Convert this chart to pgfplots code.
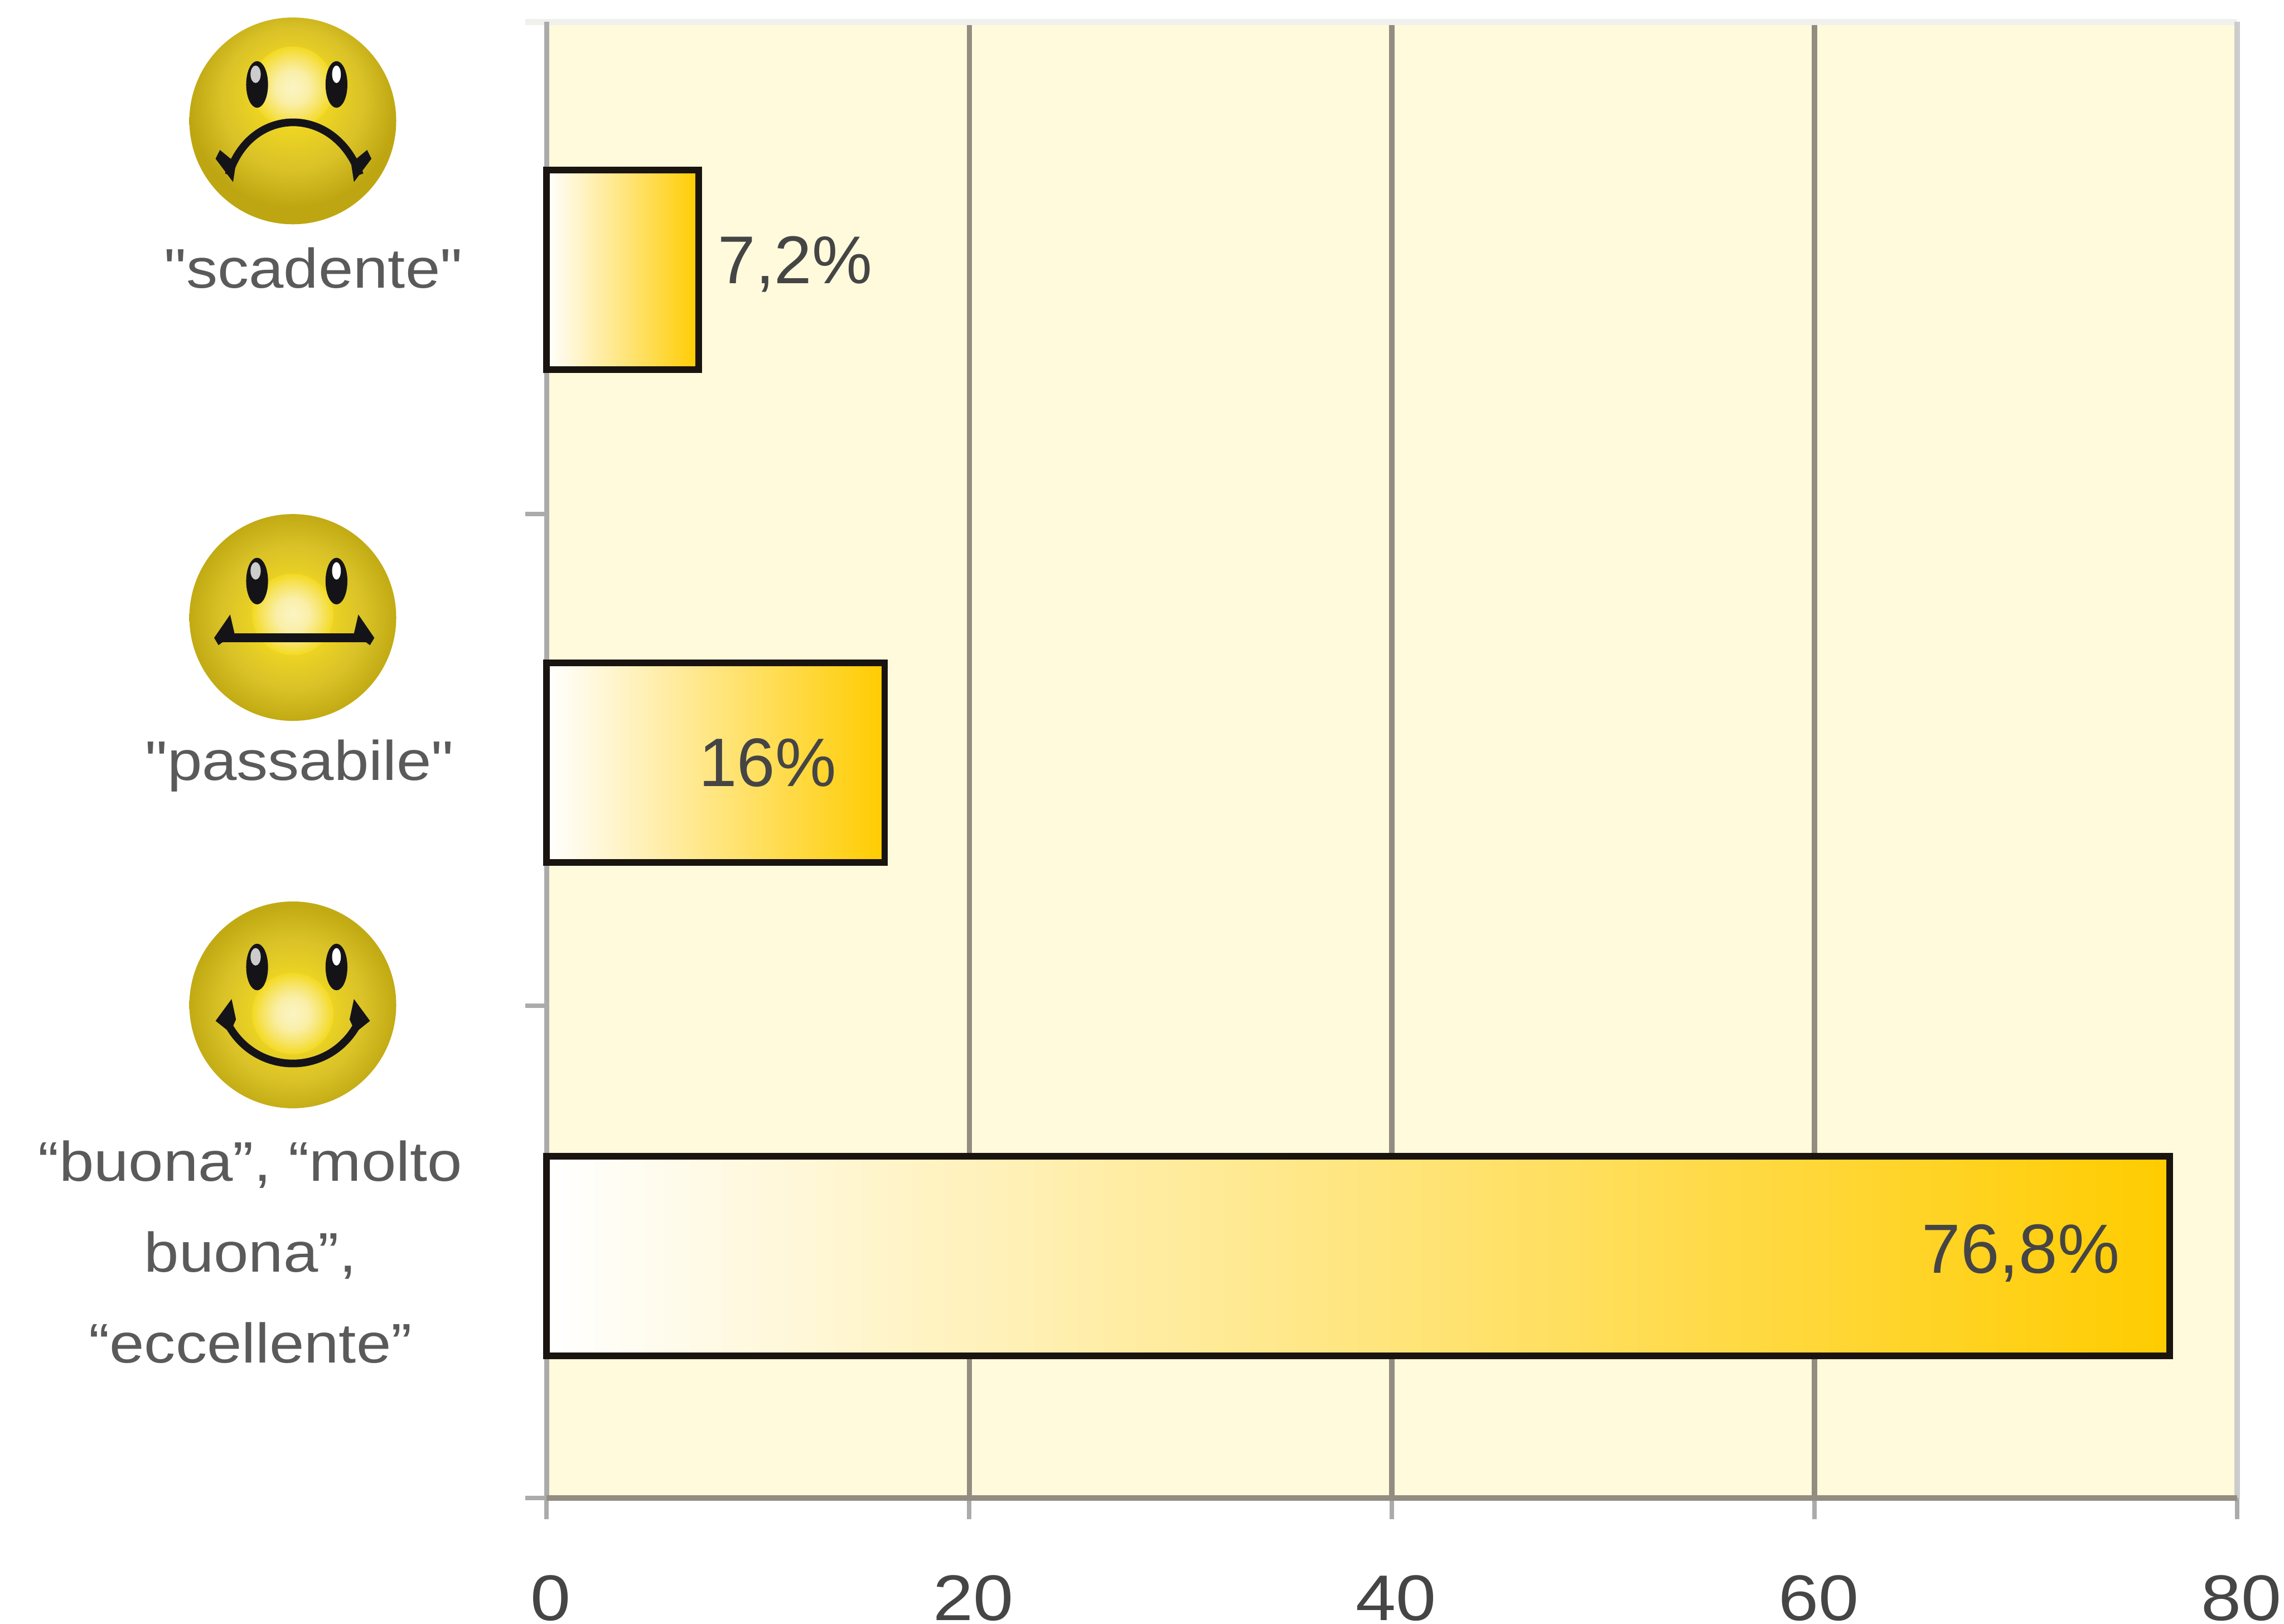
\documentclass[border=0pt]{standalone}
\usepackage{fontspec}
\setmainfont[FakeStretch=1.12,Ligatures=TeXOff]{Liberation Sans}
\newfontfamily\valuefont{Liberation Sans}
\usepackage{pgfplots}
\pgfplotsset{compat=1.18}

\definecolor{panel}{HTML}{FFFADC}
\definecolor{gridc}{HTML}{928D80}
\definecolor{spinel}{HTML}{ABABAB}
\definecolor{spiner}{HTML}{CCCCCC}
\definecolor{spinet}{HTML}{F0F0EC}
\definecolor{barline}{HTML}{1A1410}
\definecolor{barmid}{HTML}{FDE396}
\definecolor{barend}{HTML}{FFCC00}
\definecolor{labelc}{HTML}{5A5A5A}
\definecolor{valuec}{HTML}{454545}
\definecolor{eye}{HTML}{141418}
\definecolor{ballA}{HTML}{F4DC20}
\definecolor{ballB}{HTML}{EFD622}
\definecolor{ballC}{HTML}{DAC228}
\definecolor{ballD}{HTML}{BEA612}
\definecolor{ballE}{HTML}{C2AA14}
\definecolor{glowA}{HTML}{FBF4C4}
\definecolor{glowB}{HTML}{FAEFA8}
\definecolor{glowC}{HTML}{F7E466}
\definecolor{glowD}{HTML}{F3DA22}

% Face shading: the bright zone sits at a different height on each face.
% TikZ fits a path's bounding box to the inner 50bp square, so stops end at 25bp.
\pgfdeclareradialshading{ballup}{\pgfpoint{0bp}{8bp}}{color(0bp)=(ballA);color(8bp)=(ballB);color(17bp)=(ballC);color(25bp)=(ballD);color(50bp)=(ballD)}
\pgfdeclareradialshading{ballmid}{\pgfpoint{0bp}{0bp}}{color(0bp)=(ballA);color(8bp)=(ballB);color(17bp)=(ballC);color(25bp)=(ballE);color(50bp)=(ballE)}
\pgfdeclareradialshading{balllow}{\pgfpoint{0bp}{-2bp}}{color(0bp)=(ballA);color(8bp)=(ballB);color(17bp)=(ballC);color(25bp)=(ballE);color(50bp)=(ballE)}
\pgfdeclareradialshading{glow}{\pgfpointorigin}{color(0bp)=(glowA);color(10bp)=(glowB);color(18bp)=(glowC);color(25bp)=(glowD);color(50bp)=(glowD)}

\newcommand{\face}[4]{% centre y, shading, glow y, eye y
  \shade[shading=#2] (201,#1) circle (71);
  \shade[shading=glow] (201,#3) circle (28);
  \fill[eye] (176.5,#4) ellipse (7.5 and 16);
  \fill[eye] (231,#4) ellipse (7.5 and 16);
  \fill[gray!40] (175.5,#4-7) ellipse (3.5 and 6);
  \fill[white] (231,#4-7) ellipse (3 and 6);
}

\begin{document}
\begin{tikzpicture}[x=0.01cm,y=-0.01cm]
\path[use as bounding box] (0,0) rectangle (1568,1115);

\begin{axis}[
  at={(3.75cm,-10.28cm)}, anchor=south west,
  scale only axis, width=11.60cm, height=10.13cm,
  xmin=0, xmax=80, ymin=0, ymax=3,
  clip=false,
  axis line style={draw=none},
  axis background/.style={fill=panel},
  xtick pos=bottom, ytick pos=left,
  tick align=outside,
  major tick length=0.145cm,
  tick style={spinel, line width=0.9pt},
  xtick={0,20,40,60,80},
  xmajorgrids,
  grid style={gridc, line width=1pt},
  xticklabel style={font=\fontsize{12.6}{15}\selectfont, text=valuec, inner sep=0pt, anchor=north, yshift=-0.38cm, xshift=0.03cm},
  ytick={0,1,2,3},
  yticklabels={},
  extra y ticks={0.5,1.5,2.5},
  extra y tick labels={{“buona”, “molto\\buona”,\\“eccellente”},{\raisebox{-0.04cm}[\height][\depth]{"passabile"}\hspace{0.06cm}},{"scadente"}},
  extra y tick style={major tick length=0pt, tick style={draw=none},
    yticklabel style={font=\fontsize{10.9}{17.7}\selectfont, text=labelc, align=center, anchor=east, inner sep=0pt, xshift=-0.57cm}},
  /pgf/number format/assume math mode=true,
]
  % Frame: each side of the panel has its own weight
  \draw[spinet, line width=1.2pt] (axis cs:-1,3) -- (axis cs:80,3);
  \draw[spiner, line width=1pt] (axis cs:80,0) -- (axis cs:80,3);
  \draw[spinel, line width=1pt] (axis cs:0,0) -- (axis cs:0,3);
  \draw[gridc, line width=1pt] (axis cs:0,0) -- (axis cs:80,0);

  \pgfplotsset{gradbar/.style={
    xbar, bar width=1.37cm, bar shift=0pt,
    draw=barline, line width=1.3pt,
    left color=white, middle color=barmid, right color=barend}}

  \addplot[gradbar,
    nodes near coords={7,2\%},
    every node near coord/.style={anchor=west, inner sep=0pt, xshift=0.11cm, yshift=0.04cm,
      font=\valuefont\fontsize{13.2}{15}\selectfont, text=valuec}]
    coordinates {(7.2,2.496)};
  \addplot[gradbar,
    nodes near coords={16\%},
    every node near coord/.style={anchor=east, inner sep=0pt, xshift=-0.31cm,
      font=\valuefont\fontsize{13.4}{15}\selectfont, text=valuec}]
    coordinates {(16,1.494)};
  \addplot[gradbar,
    nodes near coords={76,8\%},
    every node near coord/.style={anchor=east, inner sep=0pt, xshift=-0.32cm, yshift=0.02cm,
      font=\valuefont\fontsize{13.6}{15}\selectfont, text=valuec}]
    coordinates {(76.8,0.492)};
\end{axis}

% Sad face
\face{83}{ballup}{60}{58}
\draw[eye, line width=1.5pt] (157,120) .. controls (172,72) and (230,72) .. (247,120);
\fill[eye] (151,103) -- (148,109) -- (160,125) -- (162,112) -- cycle;
\fill[eye] (252,103) -- (255,109) -- (243,125) -- (241,112) -- cycle;

% Neutral face
\face{424}{ballmid}{422}{399}
\draw[eye, line width=1.7pt] (150,438) -- (254,438);
\fill[eye] (158,422) -- (147,438) -- (150,443) -- (161,435) -- cycle;
\fill[eye] (246,422) -- (257,438) -- (254,443) -- (243,435) -- cycle;

% Happy face
\face{690}{balllow}{696}{664}
\draw[eye, line width=1.5pt] (154,698) .. controls (172,741) and (230,741) .. (248,698);
\fill[eye] (159,686) -- (148,701) -- (158,709) -- (162,700) -- cycle;
\fill[eye] (243,686) -- (254,701) -- (244,709) -- (240,700) -- cycle;
\end{tikzpicture}
\end{document}
